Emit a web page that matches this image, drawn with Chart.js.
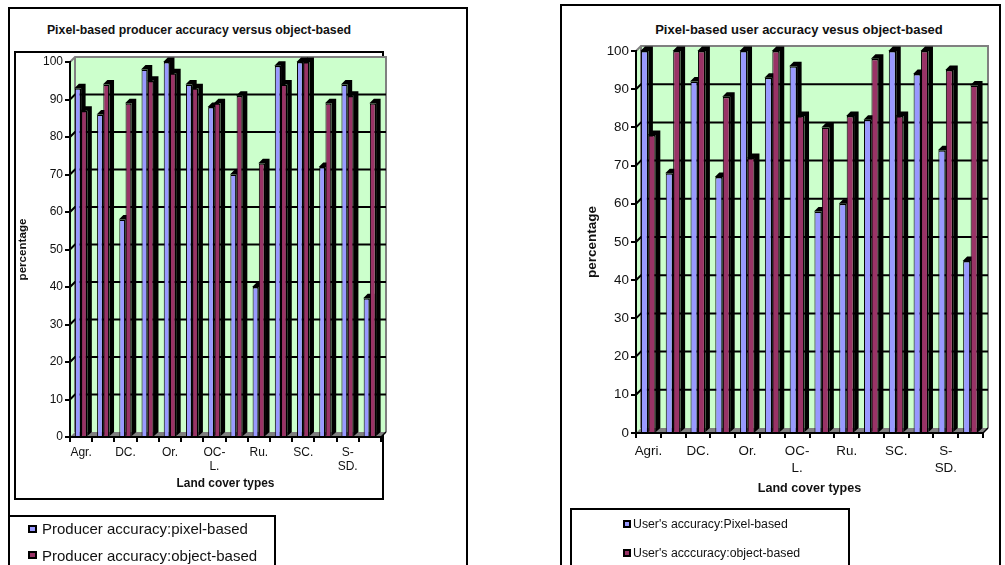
<!DOCTYPE html>
<html><head><meta charset="utf-8">
<script src="https://cdn.jsdelivr.net/npm/chart.js@4.4.1/dist/chart.umd.min.js"></script>
<style>
html,body{margin:0;padding:0;background:#fff;width:1005px;height:565px;overflow:hidden;font-family:"Liberation Sans",Arial,sans-serif;color:#111}
.box{position:absolute;border:2px solid #000;box-sizing:border-box}
canvas{position:absolute;top:0}
.t{position:absolute;font-weight:bold;text-align:center;white-space:nowrap;line-height:16px}
.lg{position:absolute;white-space:nowrap}
.mk{position:absolute;border:2px solid #000;box-sizing:border-box}
</style></head><body>
<div class="box" style="left:8px;top:7px;width:460px;height:620px"></div>
<div class="box" style="left:14px;top:51px;width:370px;height:449px"></div>
<div class="box" style="left:8px;top:515px;width:268px;height:120px"></div>
<div class="box" style="left:560px;top:4px;width:441px;height:620px"></div>
<div class="box" style="left:570px;top:508px;width:280px;height:120px"></div>

<div class="t" id="titleL" style="left:0px;width:398px;top:22px;font-size:12.3px"></div>
<div class="t" id="titleR" style="left:599px;width:400px;top:22px;font-size:13px"></div>

<canvas id="cL" width="470" height="565" style="left:0px"></canvas>
<canvas id="cR" width="475" height="565" style="left:530px"></canvas>

<div class="mk" style="left:28px;top:525px;width:9px;height:8px;background:#9999FF"></div>
<div class="lg" id="lgL1" style="left:42px;top:520px;font-size:15px;line-height:18px"></div>
<div class="mk" style="left:28px;top:551px;width:9px;height:8px;background:#993366"></div>
<div class="lg" id="lgL2" style="left:42px;top:547px;font-size:15px;line-height:18px"></div>
<div class="mk" style="left:623px;top:520px;width:8px;height:8px;background:#9999FF"></div>
<div class="lg" id="lgR1" style="left:633px;top:516px;font-size:12.3px;line-height:16px"></div>
<div class="mk" style="left:623px;top:549px;width:8px;height:8px;background:#993366"></div>
<div class="lg" id="lgR2" style="left:633px;top:545px;font-size:12.3px;line-height:16px"></div>

<script>
// ---- data ----
const categoriesLeft  = ['Agr.', '', 'DC.', '', 'Or.', '', 'OC-L.', '', 'Ru.', '', 'SC.', '', 'S-SD.', ''];
const categoriesRight = ['Agri.', '', 'DC.', '', 'Or.', '', 'OC-L.', '', 'Ru.', '', 'SC.', '', 'S-SD.', ''];
const producerPixel  = [93, 86, 58, 98, 100, 94, 88, 70, 40, 99, 100, 72, 94, 37];
const producerObject = [87, 94, 89, 95, 97, 93, 89, 91, 73, 94, 100, 89, 91, 89];
const userPixel      = [100, 68, 92, 67, 100, 93, 96, 58, 60, 82, 100, 94, 74, 45];
const userObject     = [78, 100, 100, 88, 72, 100, 83, 80, 83, 98, 83, 100, 95, 91];
const yTicks = [0, 10, 20, 30, 40, 50, 60, 70, 80, 90, 100];

const titleLeft  = 'Pixel-based producer accuracy versus object-based';
const titleRight = 'Pixel-based user accuracy vesus object-based';
const legendLeft  = ['Producer accuracy:pixel-based', 'Producer accuracy:object-based'];
const legendRight = ["User's accuracy:Pixel-based", "User's acccuracy:object-based"];
const xTitle = 'Land cover types';
const yTitle = 'percentage';

document.getElementById('titleL').textContent = titleLeft;
document.getElementById('titleR').textContent = titleRight;
document.getElementById('lgL1').textContent = legendLeft[0];
document.getElementById('lgL2').textContent = legendLeft[1];
document.getElementById('lgR1').textContent = legendRight[0];
document.getElementById('lgR2').textContent = legendRight[1];

const FAMILY = '"Liberation Sans", Arial, sans-serif';
Chart.defaults.font.family = FAMILY;
Chart.defaults.color = '#111';

const wall3d = {
  id: 'wall3d',
  beforeDraw(chart, args, o) {
    const {ctx, chartArea: {left, right, top, bottom}} = chart;
    const d = o.depth;
    const ys = chart.scales.y;
    ctx.save();
    ctx.fillStyle = '#CCFFCC';
    ctx.beginPath();
    ctx.moveTo(left, bottom); ctx.lineTo(left, top); ctx.lineTo(left + d, top - d);
    ctx.lineTo(right + d, top - d); ctx.lineTo(right + d, bottom - d); ctx.lineTo(right, bottom);
    ctx.closePath(); ctx.fill();
    // floor
    ctx.fillStyle = '#808080';
    ctx.beginPath();
    ctx.moveTo(left, bottom); ctx.lineTo(left + d, bottom - d); ctx.lineTo(right + d, bottom - d); ctx.lineTo(right, bottom);
    ctx.closePath(); ctx.fill();
    // wall outline
    ctx.strokeStyle = '#808080'; ctx.lineWidth = 2;
    ctx.beginPath();
    ctx.moveTo(left, top); ctx.lineTo(left + d, top - d); ctx.lineTo(right + d, top - d); ctx.lineTo(right + d, bottom - d);
    ctx.moveTo(left + d, top - d); ctx.lineTo(left + d, bottom - d);
    ctx.stroke();
    // gridlines on the wall
    ctx.strokeStyle = '#000'; ctx.lineWidth = 2;
    ys.ticks.forEach(t => {
      if (t.value <= ys.min || t.value >= ys.max) return;
      const y = ys.getPixelForValue(t.value);
      ctx.beginPath();
      ctx.moveTo(left, y); ctx.lineTo(left + d, y - d); ctx.lineTo(right + d, y - d);
      ctx.stroke();
    });
    ctx.lineWidth = 1.5;
    ctx.beginPath(); ctx.moveTo(right, bottom); ctx.lineTo(right + d, bottom - d); ctx.stroke();
    ctx.restore();
  },
  beforeDatasetsDraw(chart, args, o) {
    const ctx = chart.ctx; const d = o.barDepth;
    ctx.save(); ctx.fillStyle = '#000';
    chart.data.datasets.forEach((ds, i) => {
      chart.getDatasetMeta(i).data.forEach(el => {
        const {x, y, base, width} = el.getProps(['x', 'y', 'base', 'width'], true);
        const x0 = x - width / 2, x1 = x + width / 2;
        ctx.beginPath();
        ctx.moveTo(x0 - 0.5, y); ctx.lineTo(x0 + d, y - d - 0.5); ctx.lineTo(x1 + d + 0.5, y - d - 0.5);
        ctx.lineTo(x1 + d + 0.5, base - d); ctx.lineTo(x1, base); ctx.lineTo(x1, y);
        ctx.closePath(); ctx.fill();
      });
    });
    ctx.restore();
  }
};

function makeChart(id, labels, pix, obj, L) {
  const bw = {left: 1, top: 1.5, right: 1.5, bottom: 0};
  return new Chart(document.getElementById(id), {
    type: 'bar',
    data: {
      labels: labels,
      datasets: [
        {label: L.names[0], data: pix, backgroundColor: '#9999FF', borderColor: '#000', borderWidth: bw,
         borderSkipped: false, categoryPercentage: L.cat, barPercentage: 1},
        {label: L.names[1], data: obj, backgroundColor: '#993366', borderColor: '#000', borderWidth: bw,
         borderSkipped: false, categoryPercentage: L.cat, barPercentage: 1}
      ]
    },
    options: {
      responsive: false, animation: false, devicePixelRatio: 1,
      layout: {padding: L.pad},
      plugins: {legend: {display: false}, tooltip: {enabled: false}, title: {display: false},
                wall3d: {depth: 5, barDepth: 4}},
      scales: {
        x: {
          grid: {display: true, drawOnChartArea: false, drawTicks: true, tickLength: 5, color: '#000', lineWidth: 2, offset: true},
          border: {display: true, color: '#000', width: 2},
          ticks: {autoSkip: false, maxRotation: 0, minRotation: 0, padding: L.xPad, color: '#111',
                  font: {size: L.tick, lineHeight: L.xLH},
                  callback(v) {
                    const s = this.getLabelForValue(v);
                    const k = s.indexOf('-');
                    return k > 0 ? [s.slice(0, k + 1), s.slice(k + 1)] : s;
                  }},
          title: {display: true, text: xTitle, color: '#111', font: {size: L.xt, weight: 'bold'}, padding: {top: 0, bottom: 0}},
          afterFit(s) { s.height = L.xh; }
        },
        y: {
          min: 0, max: 100,
          afterBuildTicks(s) { s.ticks = yTicks.map(v => ({value: v})); },
          grid: {display: true, drawOnChartArea: false, drawTicks: true, tickLength: 5, color: '#000', lineWidth: 2},
          border: {display: true, color: '#000', width: 2},
          ticks: {padding: 2, color: '#111', font: {size: L.tick}},
          title: {display: true, text: yTitle, color: '#111', font: {size: L.yt, weight: 'bold'}, padding: {top: L.ytPad, bottom: 0}},
          afterFit(s) { s.width = L.yw; }
        }
      }
    },
    plugins: [wall3d]
  });
}

makeChart('cL', categoriesLeft, producerPixel, producerObject, {
  names: legendLeft, cat: 0.56,
  pad: {left: 14, top: 62, right: 89, bottom: 74},
  tick: 12, xLH: 1.17, xPad: 4, xt: 11.9, xh: 54, yt: 11.6, ytPad: 2, yw: 56
});
makeChart('cR', categoriesRight, userPixel, userObject, {
  names: legendRight, cat: 0.6,
  pad: {left: 50, top: 51, right: 22, bottom: 69},
  tick: 13.4, xLH: 1.27, xPad: 4.5, xt: 12.6, xh: 63, yt: 13.5, ytPad: 4, yw: 56
});
</script>
</body></html>
